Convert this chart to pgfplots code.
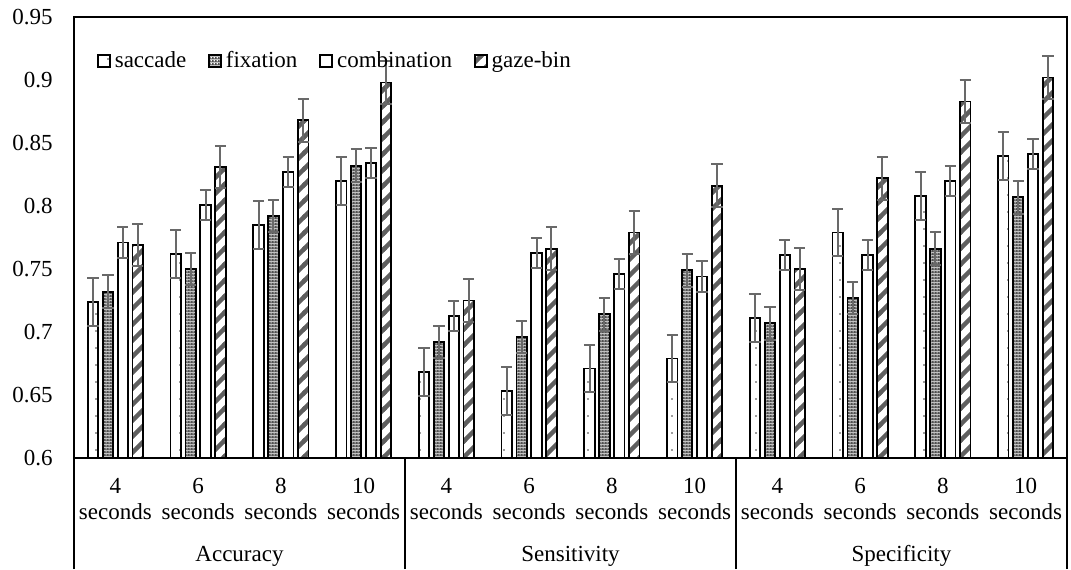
\documentclass[border=0pt]{standalone}
\usepackage{fontspec}
\setmainfont{Liberation Serif}
\usepackage{pgfplots}
\pgfplotsset{compat=1.18}
\usepackage{pgfplotstable}
\usetikzlibrary{patterns}

\definecolor{errgray}{RGB}{105,105,105}
\definecolor{stripegray}{RGB}{95,95,95}
\definecolor{fixgray}{RGB}{80,80,80}
\definecolor{dotgray}{RGB}{60,60,60}

\pgfdeclarepatternformonly{sdots}{\pgfqpoint{-1pt}{-1pt}}{\pgfqpoint{1pt}{1pt}}{\pgfqpoint{6pt}{8.5pt}}{%
  \pgfpathcircle{\pgfqpoint{0pt}{0pt}}{0.45pt}\pgfusepath{fill}}

\pgfdeclarepatterninherentlycolored{fixgrid}{\pgfpointorigin}{\pgfqpoint{1.5pt}{1.5pt}}{\pgfqpoint{1.5pt}{1.5pt}}{%
  \pgfsetfillcolor{fixgray}%
  \pgfpathrectangle{\pgfpointorigin}{\pgfqpoint{1.5pt}{1.5pt}}\pgfusepath{fill}%
  \pgfsetfillcolor{white}%
  \pgfpathrectangle{\pgfqpoint{0.4pt}{0.4pt}}{\pgfqpoint{0.7pt}{0.7pt}}\pgfusepath{fill}}

\pgfdeclarepatternformonly{gstripes}{\pgfqpoint{-1pt}{-1pt}}{\pgfqpoint{9.5pt}{9.5pt}}{\pgfqpoint{8pt}{8pt}}{%
  \pgfsetlinewidth{2.2pt}%
  \pgfpathmoveto{\pgfqpoint{-1pt}{-1pt}}\pgfpathlineto{\pgfqpoint{9pt}{9pt}}\pgfusepath{stroke}}

\pgfplotstableread{
x y e
0 0.724 0.019
1 0.762 0.019
2 0.785 0.019
3 0.820 0.019
4 0.668 0.019
5 0.653 0.019
6 0.671 0.019
7 0.679 0.019
8 0.711 0.019
9 0.779 0.019
10 0.808 0.019
11 0.840 0.019
}\saccade

\pgfplotstableread{
x y e
0 0.732 0.013
1 0.750 0.013
2 0.792 0.013
3 0.832 0.013
4 0.692 0.013
5 0.696 0.013
6 0.714 0.013
7 0.749 0.013
8 0.707 0.013
9 0.727 0.013
10 0.766 0.013
11 0.807 0.013
}\fixation

\pgfplotstableread{
x y e
0 0.771 0.012
1 0.801 0.012
2 0.827 0.012
3 0.834 0.012
4 0.713 0.012
5 0.763 0.012
6 0.746 0.012
7 0.744 0.012
8 0.761 0.012
9 0.761 0.012
10 0.820 0.012
11 0.841 0.012
}\combination

\pgfplotstableread{
x y e
0 0.769 0.017
1 0.831 0.017
2 0.868 0.017
3 0.898 0.017
4 0.725 0.017
5 0.766 0.017
6 0.779 0.017
7 0.816 0.017
8 0.750 0.017
9 0.822 0.017
10 0.883 0.017
11 0.902 0.017
}\gazebin

\newcommand{\lblfont}{\fontsize{11.5}{13}\selectfont}

\begin{document}
\begin{tikzpicture}
\begin{axis}[
  scale only axis, width=496.5pt, height=220.5pt,
  xmin=-0.5, xmax=11.5, ymin=0.6, ymax=0.95,
  ybar=2.25pt, bar width=5.2pt,
  axis line style={line width=0.9pt},
  xtick pos=left,
  xtick={0,1,2,3,4,5,6,7,8,9,10,11},
  xticklabels={{4\\seconds},{6\\seconds},{8\\seconds},{10\\seconds},{4\\seconds},{6\\seconds},{8\\seconds},{10\\seconds},{4\\seconds},{6\\seconds},{8\\seconds},{10\\seconds}},
  xticklabel style={align=center, font=\lblfont, yshift=-2.5pt},
  major x tick style={draw=none},
  extra x ticks={-0.5,3.5,7.5,11.5}, extra x tick labels={},
  extra x tick style={major tick length=55.5pt, tick align=outside, major x tick style={draw=black, line width=0.9pt}},
  ytick={0.6,0.65,0.7,0.75,0.8,0.85,0.9,0.95},
  yticklabels={0.6,0.65,0.7,0.75,0.8,0.85,0.9,0.95},
  ytick style={draw=none},
  yticklabel style={font=\lblfont, xshift=-7.2pt},
  legend style={draw=none, fill=none, at={(0.023,0.9)}, anchor=west, font=\lblfont, inner xsep=0pt,
    /tikz/every even column/.append style={column sep=9pt}},
  legend columns=-1,
  legend image code/.code={\draw[#1, line width=0.8pt] (0pt,-3pt) rectangle (6pt,3pt);},
  error bars/y dir=both, error bars/y explicit,
  error bars/error bar style={errgray, line width=1pt},
  error bars/error mark options={rotate=90, errgray, mark size=2.8pt, line width=1pt},
]
\addplot[draw=black, line width=0.9pt, fill=white, postaction={pattern=sdots, pattern color=dotgray}] table[x=x, y=y, y error=e] {\saccade};
\addplot[draw=black, line width=0.9pt, pattern=fixgrid] table[x=x, y=y, y error=e] {\fixation};
\addplot[draw=black, line width=0.9pt, fill=white] table[x=x, y=y, y error=e] {\combination};
\addplot[draw=black, line width=0.9pt, fill=white, postaction={pattern=gstripes, pattern color=stripegray}] table[x=x, y=y, y error=e] {\gazebin};
\legend{saccade, fixation, combination, gaze-bin}
\coordinate (gA) at (axis cs:1.5,0.6);
\coordinate (gB) at (axis cs:5.5,0.6);
\coordinate (gC) at (axis cs:9.5,0.6);
\end{axis}
\node[anchor=base, font=\lblfont] at ([yshift=-51.8pt]gA) {Accuracy};
\node[anchor=base, font=\lblfont] at ([yshift=-51.8pt]gB) {Sensitivity};
\node[anchor=base, font=\lblfont] at ([yshift=-51.8pt]gC) {Specificity};
\pgfresetboundingbox
\path (current axis.south west) ++(-37pt,-55.5pt) rectangle ++(535.5pt,284.5pt);
\end{tikzpicture}
\end{document}
